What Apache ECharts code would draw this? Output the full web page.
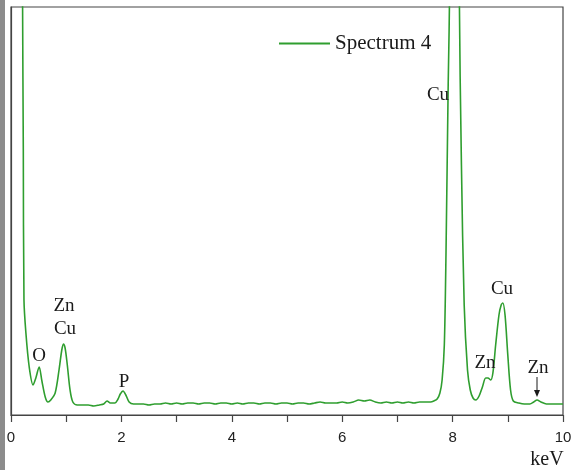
<!DOCTYPE html>
<html>
<head>
<meta charset="utf-8">
<script src="https://cdn.jsdelivr.net/npm/echarts@6/dist/echarts.min.js"></script>
<style>
html,body{margin:0;padding:0;background:#fff;}
#c{width:577px;height:470px;}
</style>
</head>
<body>
<div id="c"></div>
<script>
// Energy (keV) and intensity (arbitrary counts)
const energy = [
  0.15, 0.21, 0.223, 0.235, 0.27, 0.33, 0.40, 0.45, 0.51, 0.56, 0.62, 0.67, 0.72, 0.80, 0.87, 0.92, 0.95, 0.98, 1.02, 1.07, 1.12,
  1.2, 1.3, 1.4, 1.5, 1.6, 1.68, 1.74, 1.80, 1.88, 1.94, 1.98, 2.03, 2.08, 2.14, 2.22,
  2.3, 2.4, 2.5, 2.6, 2.7, 2.8, 2.9, 3.0, 3.1, 3.2, 3.3, 3.4, 3.5, 3.6, 3.7, 3.8, 3.9, 4.0,
  4.1, 4.2, 4.3, 4.4, 4.5, 4.6, 4.7, 4.8, 4.9, 5.0, 5.1, 5.2, 5.3, 5.4, 5.5, 5.6, 5.7, 5.8, 5.9, 6.0,
  6.1, 6.2, 6.3, 6.4, 6.5, 6.6, 6.7, 6.8, 6.9, 7.0, 7.1, 7.2, 7.3, 7.4, 7.5, 7.6, 7.66,
  7.72, 7.77, 7.81, 7.85, 7.88, 7.92, 7.95, 8.04, 8.12, 8.16, 8.21, 8.27, 8.32, 8.37, 8.42, 8.48, 8.54, 8.60, 8.64, 8.69,
  8.73, 8.78, 8.84, 8.88, 8.91, 8.95, 9.00, 9.05, 9.10, 9.2, 9.3, 9.4, 9.47, 9.53, 9.6, 9.7, 9.8, 9.9, 10.0
];
const counts = [
  1500, 408, 265, 115, 82, 48, 30, 37, 48, 34, 18, 13, 15, 22, 45, 65, 71, 67, 50, 25, 13,
  10, 10, 10, 9, 10, 11, 14, 12, 12, 16, 21, 24, 20, 13, 11,
  11, 11, 10, 11, 11, 12, 11, 12, 11, 12, 12, 11, 12, 12, 11, 12, 12, 11,
  12, 11, 12, 12, 11, 12, 12, 11, 12, 12, 11, 12, 12, 11, 12, 13, 12, 12, 12, 13,
  12, 13, 15, 14, 15, 13, 12, 13, 12, 13, 12, 13, 12, 13, 13, 13, 14,
  16, 22, 35, 70, 160, 330, 440, 1500, 430, 250, 110, 45, 25, 17, 15, 19, 28, 37, 37, 35,
  42, 70, 100, 110, 112, 100, 60, 25, 14, 12, 11, 11, 13, 15, 13, 11, 11, 11, 11
];
const xTicks = [0, 2, 4, 6, 8, 10];
const seriesName = 'Spectrum 4';

const data = energy.map((e, i) => [e, counts[i]]);
const serif = '"Liberation Serif", "Times New Roman", serif';
const sans = '"Liberation Sans", Arial, sans-serif';
const green = '#2f9e2f';

const chart = echarts.init(document.getElementById('c'));

function txt(s, x, y, size) {
  return { type: 'text', x: x, y: y, style: { text: s, font: (size || 19) + 'px ' + serif, fill: '#1a1a1a', align: 'center', verticalAlign: 'middle' }, z: 10 };
}

chart.setOption({
  animation: false,
  backgroundColor: '#fff',
  grid: { left: 11, right: 14, top: 7, bottom: 55, show: true, borderColor: '#444', borderWidth: 1.2, containLabel: false },
  legend: {
    data: [seriesName],
    left: 274, top: 28,
    icon: 'rect', itemWidth: 51, itemHeight: 2, itemGap: 6,
    textStyle: { fontFamily: serif, fontSize: 21, color: '#1a1a1a' }
  },
  xAxis: {
    type: 'value', min: 0, max: 10, interval: 1,
    axisLine: { show: true, lineStyle: { color: '#444', width: 1.2 } },
    axisTick: { show: true, inside: false, length: 7, lineStyle: { color: '#444', width: 1.2 } },
    axisLabel: {
      fontFamily: sans, fontSize: 15, color: '#222', margin: 15,
      formatter: v => (xTicks.indexOf(v) >= 0 ? String(v) : '')
    },
    splitLine: { show: false }
  },
  yAxis: {
    type: 'value', min: 0, max: 408,
    axisLine: { show: true, lineStyle: { color: '#444', width: 1.2 } },
    axisTick: { show: false }, axisLabel: { show: false }, splitLine: { show: false }
  },
  series: [{
    name: seriesName, type: 'line', data: data, showSymbol: false, smooth: 0.3, clip: true,
    lineStyle: { color: green, width: 1.6 }, itemStyle: { color: green }
  }],
  graphic: [
    { type: 'rect', shape: { x: 0, y: 0, width: 5, height: 470 }, style: { fill: '#8c8c8c' } },
    txt('O', 39, 356),
    txt('Zn', 64, 306),
    txt('Cu', 65, 329),
    txt('P', 124, 382),
    txt('Cu', 438, 95),
    txt('Cu', 502, 289),
    txt('Zn', 485, 363),
    txt('Zn', 538, 368),
    { type: 'line', shape: { x1: 537, y1: 377, x2: 537, y2: 393 }, style: { stroke: '#1a1a1a', lineWidth: 1 } },
    { type: 'polygon', shape: { points: [[534, 390], [540, 390], [537, 397]] }, style: { fill: '#1a1a1a' } },
    txt('keV', 547, 460, 20)
  ]
});
</script>
</body>
</html>
